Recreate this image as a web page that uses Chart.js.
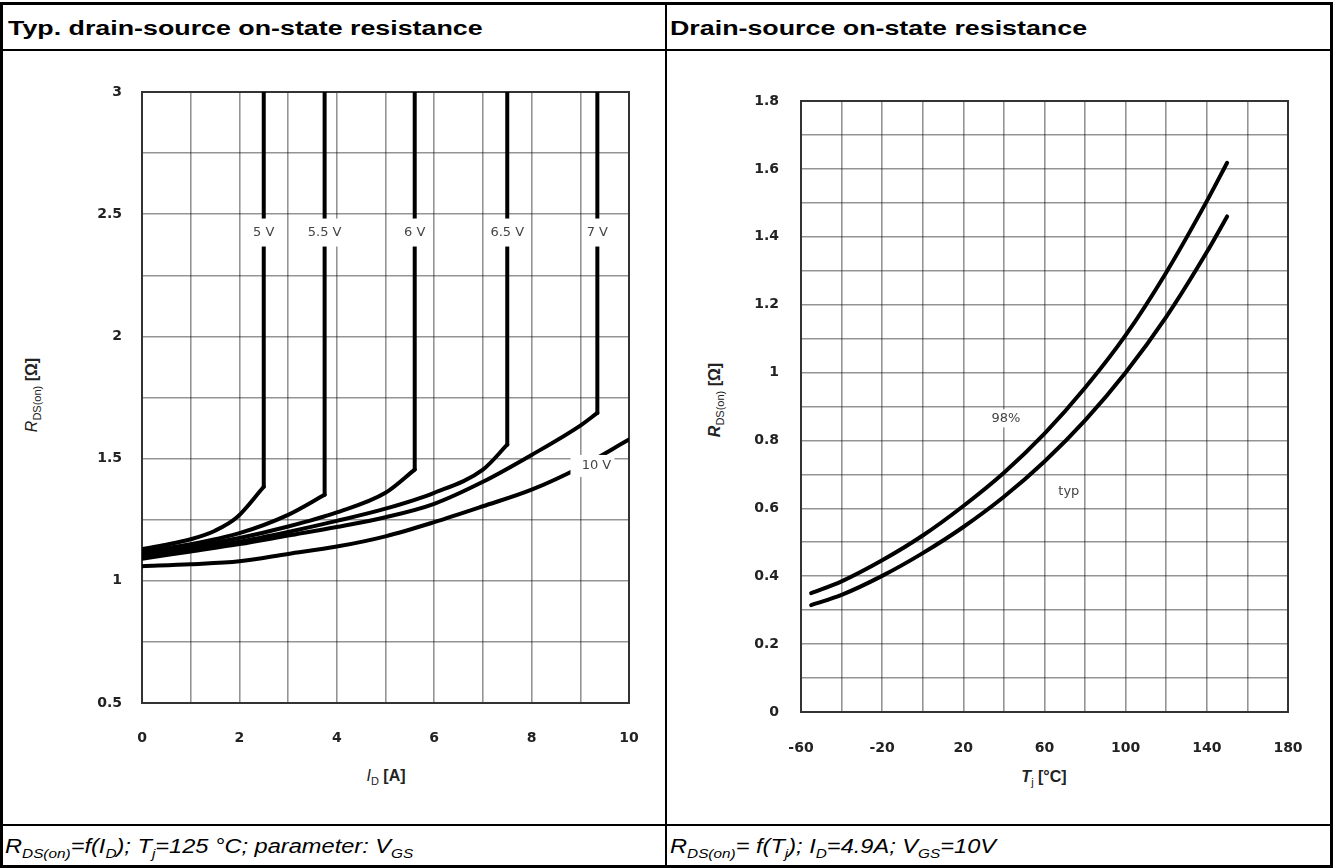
<!DOCTYPE html>
<html>
<head>
<meta charset="utf-8">
<script src="https://cdn.jsdelivr.net/npm/chart.js@4.4.0/dist/chart.umd.min.js"></script>
<style>
  body { margin: 0; background: #fff; width: 1333px; height: 868px; position: relative; overflow: hidden; font-family: "Liberation Sans", Arial, sans-serif; }
  .ln { position: absolute; background: #000; }
  .hd { position: absolute; font-weight: bold; font-size: 20px; line-height: 24px; transform: scaleX(1.34); transform-origin: 0 50%; white-space: nowrap; color: #000; }
  .ft { position: absolute; font-style: italic; font-size: 20px; line-height: 24px; transform: scaleX(1.18); transform-origin: 0 50%; white-space: nowrap; color: #000; }
  .ft sub { font-size: 13px; }
  .at { position: absolute; font-weight: bold; font-size: 16px; white-space: nowrap; color: #222; }
  .at sub { font-size: 11px; font-weight: normal; }
  .rot { transform: translate(-50%, -50%) rotate(-90deg); }
  .hor { transform: translate(-50%, -50%); }
  canvas { position: absolute; }
</style>
</head>
<body>
<!-- table frame -->
<div class="ln" style="left:0;top:2px;width:1333px;height:3px"></div>
<div class="ln" style="left:0;top:49px;width:1333px;height:2px"></div>
<div class="ln" style="left:0;top:824px;width:1333px;height:2px"></div>
<div class="ln" style="left:0;top:865px;width:1333px;height:3px"></div>
<div class="ln" style="left:0;top:2px;width:3px;height:866px"></div>
<div class="ln" style="left:665px;top:2px;width:2px;height:866px"></div>
<div class="ln" style="left:1330px;top:2px;width:3px;height:866px"></div>

<div class="hd" style="left:8px;top:16px">Typ. drain-source on-state resistance</div>
<div class="hd" style="left:670px;top:16px">Drain-source on-state resistance</div>

<div class="ft" style="left:5px;top:834px">R<sub>DS(on)</sub>=f(I<sub>D</sub>); T<sub>j</sub>=125 °C; parameter: V<sub>GS</sub></div>
<div class="ft" style="left:670px;top:834px">R<sub>DS(on)</sub>= f(T<sub>j</sub>); I<sub>D</sub>=4.9A; V<sub>GS</sub>=10V</div>

<div class="at rot" style="left:33px;top:395px"><i style="font-weight:normal">R</i><sub>DS(on)</sub> [Ω]</div>
<div class="at hor" style="left:386px;top:777px"><i style="font-weight:normal">I</i><sub>D</sub> [A]</div>
<div class="at rot" style="left:716px;top:400px"><i>R</i><sub>DS(on)</sub> [Ω]</div>
<div class="at hor" style="left:1044px;top:778px"><i>T</i><sub>j</sub> [°C]</div>

<canvas id="left-chart" width="666" height="770" style="left:0;top:52px"></canvas>
<canvas id="right-chart" width="665" height="770" style="left:667px;top:52px"></canvas>

<script>
// left chart: RDS(on) vs ID, parameter VGS (points are [ID, RDS])
var gateLabels = ['5 V', '5.5 V', '6 V', '6.5 V', '7 V', '10 V'];
var curve5V  = [[0, 1.13], [0.5, 1.148], [1, 1.17], [1.5, 1.205], [1.95, 1.26], [2.5, 1.385]];
var curve55V = [[0, 1.12], [1, 1.15], [2, 1.195], [3, 1.27], [3.75, 1.352]];
var curve6V  = [[0, 1.11], [1, 1.14], [2, 1.175], [3, 1.222], [4, 1.28], [5, 1.36], [5.6, 1.455]];
var curve65V = [[0, 1.10], [1, 1.13], [2, 1.16], [3, 1.20], [4, 1.245], [5, 1.295], [6, 1.36], [7, 1.455], [7.5, 1.557]];
var curve7V  = [[0, 1.09], [1, 1.12], [2, 1.15], [3, 1.185], [4, 1.22], [5, 1.26], [6, 1.315], [7, 1.405], [8, 1.515], [9, 1.635], [9.35, 1.687]];
var curve10V = [[0, 1.06], [1, 1.068], [2, 1.08], [3, 1.11], [4, 1.14], [5, 1.182], [6, 1.24], [7, 1.305], [8, 1.373], [9, 1.465], [10, 1.578]];

// right chart: RDS(on) vs Tj (points are [Tj, RDS])
var tempLabels = ['98%', 'typ'];
var curve98  = [[-55, 0.35], [-40, 0.385], [-20, 0.447], [0, 0.52], [20, 0.607], [40, 0.705], [60, 0.82], [80, 0.955], [100, 1.11], [120, 1.295], [140, 1.505], [150, 1.618]];
var curveTyp = [[-55, 0.315], [-40, 0.345], [-20, 0.401], [0, 0.468], [20, 0.545], [40, 0.634], [60, 0.738], [80, 0.859], [100, 1.0], [120, 1.164], [140, 1.355], [150, 1.46]];

var tickFont = { family: '"DejaVu Sans", sans-serif', size: 14, weight: 'bold' };
var gridColor = 'rgba(0,0,0,0.42)';

function pts(arr) {
  return arr.map(function (p) { return { x: p[0], y: p[1] }; });
}

function lineSet(arr) {
  return {
    data: pts(arr),
    showLine: true,
    borderColor: '#000',
    borderWidth: 4,
    pointRadius: 0,
    cubicInterpolationMode: 'monotone',
    borderCapStyle: 'round',
    borderJoinStyle: 'round',
  };
}

// straight vertical part from the knee to the top of the plot
function riseSet(arr, top) {
  var k = arr[arr.length - 1];
  var s = lineSet([k, [k[0], top]]);
  s.cubicInterpolationMode = 'default';
  s.tension = 0;
  return s;
}

var framePlugin = {
  id: 'frame',
  beforeDatasetsDraw: function (chart) {
    var a = chart.chartArea, ctx = chart.ctx;
    ctx.save();
    ctx.strokeStyle = '#333';
    ctx.lineWidth = 2;
    ctx.strokeRect(a.left, a.top, a.right - a.left, a.bottom - a.top);
    ctx.restore();
  }
};

// text marks drawn in data coordinates on a white patch
function tagPlugin(tags) {
  return {
    id: 'tags',
    afterDatasetsDraw: function (chart) {
      var ctx = chart.ctx, sx = chart.scales.x, sy = chart.scales.y;
      ctx.save();
      ctx.font = '13px "DejaVu Sans", sans-serif';
      ctx.textAlign = 'center';
      ctx.textBaseline = 'middle';
      tags.forEach(function (t) {
        var px = sx.getPixelForValue(t.x), py = sy.getPixelForValue(t.y);
        var w = t.w || ctx.measureText(t.text).width + 8;
        var h = t.h || 22;
        ctx.fillStyle = '#fff';
        ctx.fillRect(px - w / 2, py - h / 2, w, h);
        ctx.fillStyle = '#444';
        ctx.fillText(t.text, px + (t.dx || 0), py);
      });
      ctx.restore();
    }
  };
}

function axisY(min, max, step, fmt, width, pad) {
  return {
    type: 'linear', min: min, max: max,
    border: { display: false },
    grid: { color: gridColor, lineWidth: 1.6, drawTicks: false },
    ticks: { stepSize: step, autoSkip: false, padding: pad, color: '#222', font: tickFont, callback: fmt },
    afterFit: function (s) { s.width = width; }
  };
}

function axisX(min, max, step, fmt, pad) {
  return {
    type: 'linear', min: min, max: max,
    border: { display: false },
    grid: { color: gridColor, lineWidth: 1.6, drawTicks: false },
    ticks: { stepSize: step, autoSkip: false, maxRotation: 0, padding: pad, color: '#222', font: tickFont, callback: fmt },
    afterFit: function (s) { s.height = 60; }
  };
}

var leftCurves = [curve5V, curve55V, curve6V, curve65V, curve7V];
var leftSets = [];
leftCurves.forEach(function (c) {
  leftSets.push(lineSet(c));
  leftSets.push(riseSet(c, 3));
});
leftSets.push(lineSet(curve10V));

var leftTags = leftCurves.map(function (c, i) {
  return { text: gateLabels[i], x: c[c.length - 1][0], y: 2.425, h: 28 };
});
leftTags.push({ text: gateLabels[5], x: 9.25, y: 1.47, w: 44, h: 22, dx: 4 });

new Chart(document.getElementById('left-chart'), {
  type: 'scatter',
  data: { datasets: leftSets },
  options: {
    responsive: false,
    animation: false,
    layout: { padding: { left: 82, top: 40, right: 37, bottom: 59 } },
    plugins: { legend: { display: false }, tooltip: { enabled: false } },
    scales: {
      x: axisX(0, 10, 1, function (v) { return v % 2 === 0 ? String(v) : ''; }, 27),
      y: axisY(0.5, 3, 0.25, function (v) {
        return Math.abs(v * 2 - Math.round(v * 2)) < 1e-6 ? String(v) : '';
      }, 60, 20)
    }
  },
  plugins: [framePlugin, tagPlugin(leftTags)]
});

new Chart(document.getElementById('right-chart'), {
  type: 'scatter',
  data: { datasets: [lineSet(curve98), lineSet(curveTyp)] },
  options: {
    responsive: false,
    animation: false,
    layout: { padding: { left: 74, top: 49, right: 44, bottom: 50 } },
    plugins: { legend: { display: false }, tooltip: { enabled: false } },
    scales: {
      x: axisX(-60, 180, 20, function (v) { return (v + 60) % 40 === 0 ? String(v) : ''; }, 28),
      y: axisY(0, 1.8, 0.1, function (v) {
        var t = Math.round(v * 10);
        return t % 2 === 0 ? String(t / 10) : '';
      }, 60, 22)
    }
  },
  plugins: [framePlugin, tagPlugin([
    { text: tempLabels[0], x: 41, y: 0.865, h: 18 },
    { text: tempLabels[1], x: 72, y: 0.648, h: 18 }
  ])]
});
</script>
</body>
</html>
